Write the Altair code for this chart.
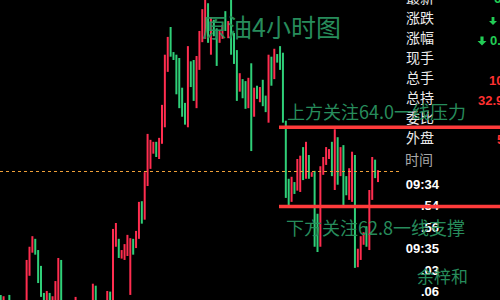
import altair as alt
import pandas as pd

# ---- candle data (4-hour crude oil bars, price in USD) ----
bar_no = [0, 1, 3, 9, 10, 11, 12, 13, 14, 15, 16, 17, 18, 19, 20, 21, 26, 32, 33, 37, 38,
          39, 40, 41, 42, 43, 44, 45, 46, 47, 48, 49, 50, 51, 52, 53, 54, 55, 56, 57, 58,
          59, 60, 61, 62, 63, 64, 65, 66, 67, 68, 69, 70, 71, 72, 73, 74, 75, 76, 77, 78,
          79, 80, 81, 82, 83, 84, 85, 86, 87, 88, 89, 90, 91, 92, 93, 94, 95, 96, 97, 98,
          99, 100, 101, 102, 103, 104, 105, 106, 107, 108, 109, 110, 111, 112, 113, 114,
          115, 116, 117, 118, 119, 120, 121, 122, 123, 124, 125, 126, 127, 128, 129, 130, 131]

open_px = [61.46, 61.30, 61.46, 61.30, 61.75, 62.10, 62.31, 62.14, 61.90, 61.49, 61.30,
           61.49, 61.30, 61.30, 61.30, 61.99, 61.30, 61.30, 61.60, 61.30, 61.51,
           61.30, 62.19, 62.31, 62.01, 61.99, 62.05, 61.46, 62.31, 62.17, 62.31, 62.88,
           62.60, 63.11, 63.37, 63.60, 63.78, 63.52, 63.75, 64.00, 64.84,
           65.52, 65.14, 65.10, 65.05, 64.60, 64.37, 64.00, 65.00, 65.02, 64.29, 64.87,
           65.29, 65.34, 65.88, 65.10, 65.63, 65.50, 65.28, 65.34, 65.76,
           65.35, 65.95, 65.43, 65.17, 64.54, 64.73, 64.70, 64.29, 64.97, 64.16, 64.63,
           64.38, 64.72, 64.48, 64.07, 65.07, 64.73, 65.11, 65.23, 65.13,
           64.10, 63.22, 62.87, 63.17, 63.04, 63.02, 63.70, 63.22, 63.58, 63.25, 63.34,
           62.69, 62.19, 63.28, 63.43, 63.52,
           63.78, 63.05, 63.85, 63.26, 63.73, 63.26, 62.90, 62.87, 63.58, 61.88, 61.99,
           62.22, 62.50, 62.14, 62.90, 63.51, 63.17]

close_px = [61.30, 61.44, 61.30, 61.99, 62.19, 62.35, 62.07, 61.64, 61.43, 61.30, 61.52,
            61.30, 61.44, 61.67, 62.02, 61.30, 61.43, 61.63, 61.30, 61.52, 61.30,
            62.46, 62.55, 62.02, 62.14, 62.23, 62.37, 62.32, 62.07, 62.43, 62.87, 62.54,
            63.32, 63.90, 63.81, 63.78, 63.55, 63.84, 64.34, 65.10, 65.37,
            65.07, 65.02, 64.50, 64.29, 64.16, 64.04, 65.23, 64.61, 64.40, 65.08, 65.46,
            65.79, 65.95, 65.28, 65.67, 65.38, 64.93, 65.47, 65.55, 65.46,
            65.61, 65.10, 64.96, 64.40, 64.82, 64.44, 64.28, 64.75, 63.64, 64.60, 64.43,
            64.61, 64.32, 64.23, 65.10, 64.63, 65.19, 64.98, 64.87, 64.07,
            62.93, 62.82, 63.25, 62.99, 63.52, 63.57, 63.20, 63.78, 63.22, 63.32, 62.19,
            62.11, 63.41, 63.55, 63.70, 63.67,
            63.26, 63.97, 63.13, 63.70, 62.82, 62.97, 63.38, 63.63, 61.87, 62.16, 62.35,
            62.41, 62.19, 63.05, 63.55, 63.23, 63.35]

# key levels
resistance = 64.0
support = 62.8
last_price = 63.33

# quote panel
panel_labels = ["最新", "涨跌", "涨幅", "现手", "总手", "总持", "委比", "外盘"]
tick_times = ["09:34", ".54", ".56", "09:35", ".03", ".06"]

RED = "#ff2d4f"
GREEN = "#2fcf78"
LINE_RED = "#ff3b3b"
NOTE_GREEN = "#2a9460"
CJK = "Noto Sans CJK SC"

candles = pd.DataFrame({"bar": bar_no, "open": open_px, "close": close_px})
candles["dir"] = ["up" if c >= o else "down" for o, c in zip(open_px, close_px)]

xs = alt.Scale(domain=[-0.243, 173.37], nice=False, zero=False)
ys = alt.Scale(domain=[61.383, 65.929], nice=False, zero=False)

candle_layer = alt.Chart(candles).mark_rule(strokeWidth=2, clip=True).encode(
    x=alt.X("bar:Q", scale=xs, axis=None),
    y=alt.Y("open:Q", scale=ys, axis=None),
    y2="close:Q",
    color=alt.Color("dir:N", scale=alt.Scale(domain=["up", "down"], range=[RED, GREEN]), legend=None),
)

last_line = alt.Chart(pd.DataFrame({"price": [last_price]})).mark_rule(
    color="#f0a038", strokeWidth=1, strokeDash=[3, 3]
).encode(x=alt.value(0), x2=alt.value(400), y=alt.Y("price:Q", scale=ys, axis=None))

level_lines = alt.Chart(pd.DataFrame({"price": [resistance, support]})).mark_rule(
    color=LINE_RED, strokeWidth=3.5
).encode(x=alt.value(279), x2=alt.value(500), y=alt.Y("price:Q", scale=ys, axis=None))

# quote panel rows are laid out 20 px apart
panel = alt.Chart(pd.DataFrame({"label": panel_labels, "row": list(range(len(panel_labels)))})).transform_calculate(
    py="-1 + 20 * datum.row"
).mark_text(
    font=CJK, fontSize=14, color="#ececec", align="left", baseline="middle"
).encode(text="label:N", x=alt.value(406), y=alt.Y("py:Q", scale=None, axis=None))

time_head = alt.Chart(pd.DataFrame({"t": ["时间"]})).mark_text(
    font=CJK, fontSize=14, color="#a8a8a8", align="left", baseline="middle"
).encode(text="t:N", x=alt.value(405), y=alt.value(161))

times = alt.Chart(pd.DataFrame({"t": tick_times, "row": list(range(len(tick_times)))})).transform_calculate(
    py="184.5 + 21.5 * datum.row"
).mark_text(
    font="Liberation Sans", fontSize=13, fontWeight="bold", color="#ffffff", align="right", baseline="middle"
).encode(text="t:N", x=alt.value(439), y=alt.Y("py:Q", scale=None, axis=None))


def label(text, x, y, color, size, font="Liberation Sans", weight="bold", align="left", opacity=1.0):
    return alt.Chart(pd.DataFrame({"t": [text]})).mark_text(
        font=font, fontSize=size, fontWeight=weight, color=color, align=align,
        baseline="middle", opacity=opacity
    ).encode(text="t:N", x=alt.value(x), y=alt.value(y))


down_arrow = "M-0.35,-1L0.35,-1L0.35,0L1,0L0,1L-1,0L-0.35,0Z"


def arrow(x, y, size):
    return alt.Chart(pd.DataFrame({"a": [0]})).mark_point(
        shape=down_arrow, filled=True, color="#22cc55", opacity=1, size=size
    ).encode(x=alt.value(x), y=alt.value(y))


quote_values = [
    label("63.33", 494, -1, "#22cc55", 13),
    arrow(493, 21, 64),
    arrow(482, 41, 80),
    label("0.89%", 490, 41, "#22cc55", 13),
    label("10.5万", 489, 81, "#ff3030", 13),
    label("32.95万", 478, 101, "#ff3030", 13),
    label("5.2万", 497, 140, "#ff3030", 13),
]

notes = [
    label("原油4小时图", 202, 28.5, NOTE_GREEN, 25, font=CJK, weight="normal", opacity=0.95),
    label("上方关注64.0一线压力", 287, 114, NOTE_GREEN, 18, font=CJK, weight="normal", opacity=0.95),
    label("下方关注62.8一线支撑", 286, 230, NOTE_GREEN, 18, font=CJK, weight="normal", opacity=0.95),
    label("余梓和", 417, 278, NOTE_GREEN, 17, font=CJK, weight="normal", opacity=0.95),
]

chart = alt.layer(
    candle_layer, last_line, panel, time_head, times, *quote_values, level_lines, *notes
).properties(
    width=500, height=300, background="#000000", padding=0,
    autosize=alt.AutoSizeParams(type="none"),
).configure_view(stroke=None, fill="#000000")

chart.save("out.html", embed_options={"renderer": "svg", "actions": False})
